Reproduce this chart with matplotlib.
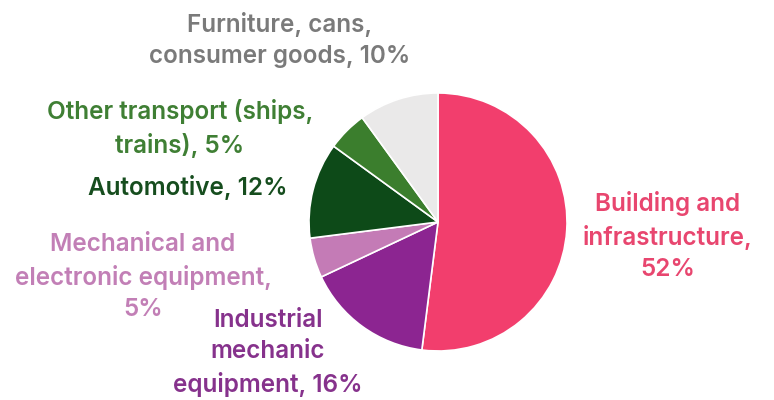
import matplotlib.pyplot as plt

# share of steel use by sector, clockwise from 12 o'clock
sectors = ["Building and\ninfrastructure,\n", "Industrial\nmechanic\nequipment,",
           "Mechanical and\nelectronic equipment,\n", "Automotive,",
           "Other transport (ships,\ntrains),", "Furniture, cans,\nconsumer goods,"]
shares = [52, 16, 5, 12, 5, 10]
colors = ["#F23E6D", "#8C2591", "#C47BB6", "#0D4A18", "#3B7E2D", "#EAE9E9"]
text_colors = ["#E8466F", "#86328C", "#C27FB6", "#164D1E", "#3F7F34", "#7A7A7A"]
# label anchor points in pixels (x, y from top)
label_xy = [(668, 236), (268, 353), (143, 277), (188, 187), (180, 128), (280, 40)]

W, H = 774, 400
fig = plt.figure(figsize=(W / 100, H / 100), dpi=100)
ax = fig.add_axes([0, 0, 1, 1])

ax.pie(shares, colors=colors, startangle=90, counterclock=False,
       center=(438, H - 222), radius=129, frame=True,
       wedgeprops=dict(edgecolor="white", linewidth=1.2))
ax.set_xlim(0, W)
ax.set_ylim(0, H)
ax.set_aspect("equal")
ax.axis("off")

for name, val, col, (x, y) in zip(sectors, shares, text_colors, label_xy):
    sep = "" if name.endswith("\n") else " "
    ax.text(x, H - y, f"{name}{sep}{val}%", ha="center", va="center",
            color=col, fontsize=17.5, fontweight="semibold", family="Inter",
            linespacing=1.45)

fig.savefig("out.png", dpi=100)
